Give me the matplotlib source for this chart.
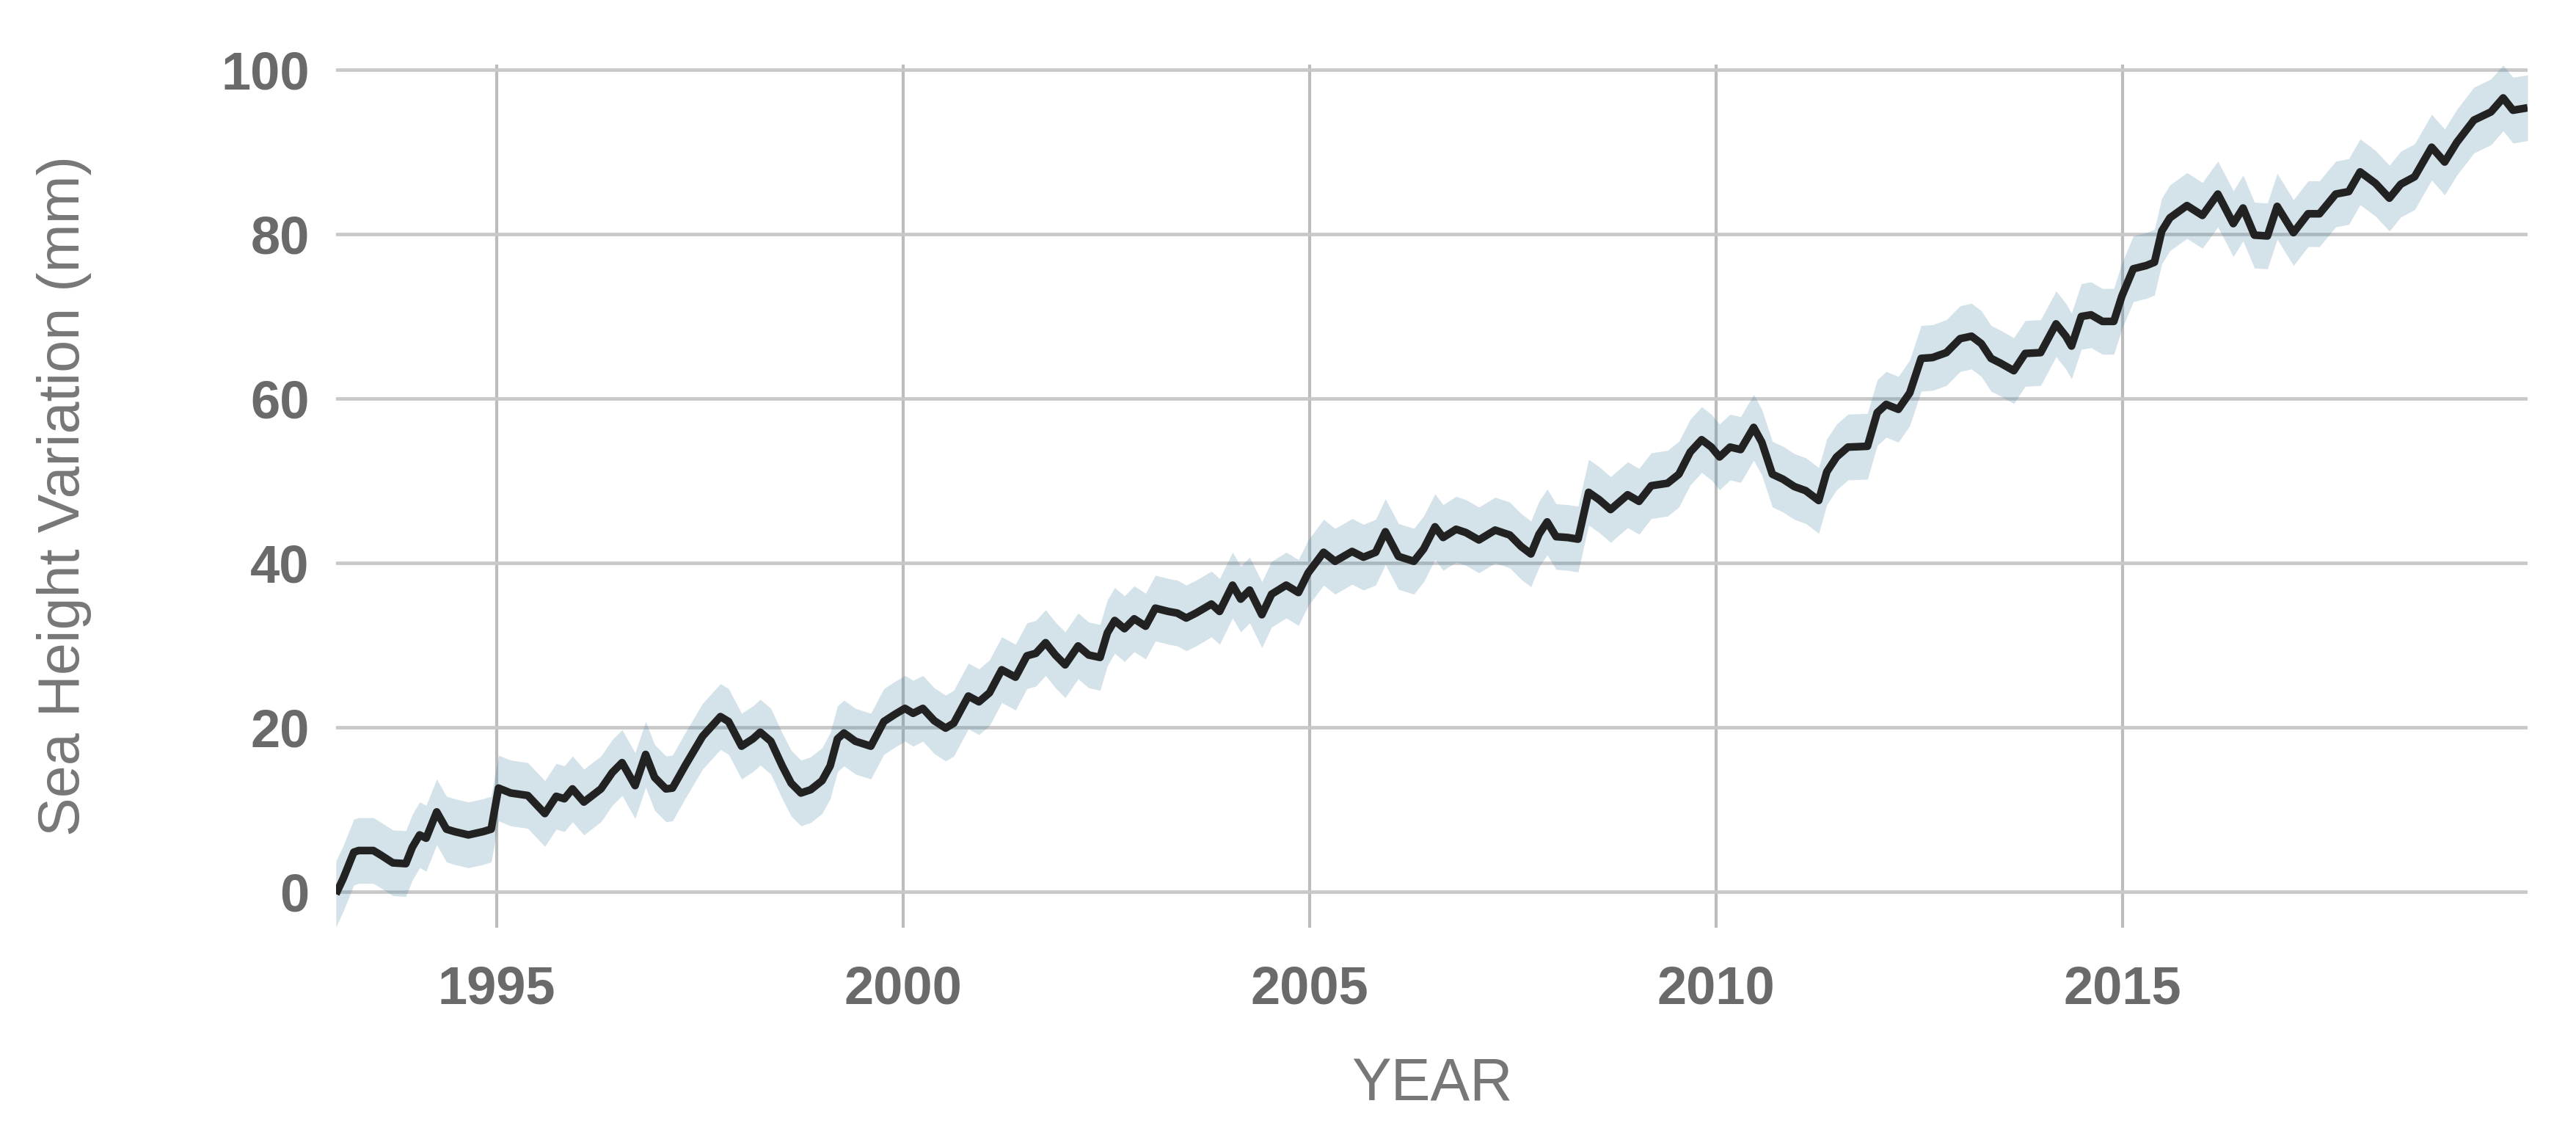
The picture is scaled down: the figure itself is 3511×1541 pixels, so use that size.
import matplotlib
matplotlib.use("Agg")
import matplotlib.pyplot as plt

# global mean sea level
years = [
    1993.02, 1993.11, 1993.24, 1993.30, 1993.48, 1993.58, 1993.72, 1993.88, 1993.96,
    1994.05, 1994.13, 1994.26, 1994.38, 1994.48, 1994.65, 1994.83, 1994.93,
    1995.02, 1995.17, 1995.38, 1995.59, 1995.73, 1995.83, 1995.93,
    1996.07, 1996.28, 1996.42, 1996.54, 1996.70, 1996.83, 1996.94,
    1997.08, 1997.16, 1997.32, 1997.53, 1997.75, 1997.85,
    1998.01, 1998.15, 1998.24, 1998.37, 1998.51, 1998.62, 1998.74, 1998.86,
    1999.00, 1999.10, 1999.19, 1999.27, 1999.41, 1999.60, 1999.76, 1999.90,
    2000.02, 2000.12, 2000.24, 2000.38, 2000.52, 2000.62, 2000.80, 2000.93,
    2001.06, 2001.21, 2001.38, 2001.52, 2001.63, 2001.75, 2001.87, 2001.99,
    2002.15, 2002.28, 2002.42, 2002.51, 2002.60, 2002.72, 2002.84, 2002.98,
    2003.10, 2003.26, 2003.37, 2003.48, 2003.60, 2003.79, 2003.89,
    2004.05, 2004.15, 2004.26, 2004.41, 2004.53, 2004.71, 2004.86, 2004.98,
    2005.17, 2005.31, 2005.52, 2005.66, 2005.81, 2005.93,
    2006.09, 2006.28, 2006.40, 2006.54, 2006.64, 2006.80, 2006.92,
    2007.08, 2007.28, 2007.46, 2007.60, 2007.72, 2007.82, 2007.92,
    2008.03, 2008.17, 2008.30, 2008.43, 2008.56, 2008.70, 2008.91,
    2009.05, 2009.20, 2009.40, 2009.54, 2009.68, 2009.82, 2009.94,
    2010.04, 2010.17, 2010.30, 2010.46, 2010.56, 2010.69, 2010.82, 2010.96,
    2011.10, 2011.26, 2011.36, 2011.48, 2011.62, 2011.86, 2011.98,
    2012.09, 2012.24, 2012.38, 2012.52, 2012.66, 2012.83,
    2013.00, 2013.14, 2013.26, 2013.38, 2013.50, 2013.66, 2013.80, 2013.99,
    2014.18, 2014.30, 2014.37, 2014.49, 2014.61, 2014.75, 2014.89, 2014.99,
    2015.13, 2015.29, 2015.39, 2015.48, 2015.58, 2015.79, 2015.98,
    2016.17, 2016.36, 2016.48, 2016.62, 2016.78, 2016.90,
    2017.10, 2017.28, 2017.42, 2017.62, 2017.78, 2017.92,
    2018.11, 2018.28, 2018.42, 2018.59, 2018.80, 2018.96,
    2019.11, 2019.32, 2019.53, 2019.68, 2019.80, 2019.98,
]
sea_mm = [
    -0.3, 1.6, 4.8, 5.0, 5.0, 4.4, 3.5, 3.4, 5.4,
    6.9, 6.5, 9.7, 7.6, 7.3, 6.9, 7.3, 7.6,
    12.6, 12.0, 11.7, 9.5, 11.6, 11.3, 12.5,
    10.9, 12.5, 14.5, 15.7, 12.9, 16.7, 13.9,
    12.5, 12.6, 15.4, 18.9, 21.3, 20.7,
    17.7, 18.6, 19.4, 18.3, 15.3, 13.2, 12.0, 12.4,
    13.5, 15.3, 18.6, 19.3, 18.3, 17.7, 20.7, 21.6,
    22.3, 21.7, 22.3, 20.8, 19.9, 20.5, 23.8, 23.1,
    24.2, 27.0, 26.1, 28.7, 29.0, 30.3, 28.8, 27.6,
    29.9, 28.8, 28.5, 31.5, 33.0, 32.0, 33.2, 32.3,
    34.5, 34.1, 33.9, 33.3, 33.9, 35.0, 34.1,
    37.3, 35.6, 36.7, 33.7, 36.2, 37.3, 36.4, 38.8,
    41.3, 40.2, 41.4, 40.7, 41.3, 43.8,
    40.8, 40.2, 41.7, 44.4, 43.1, 44.1, 43.7,
    42.8, 44.0, 43.4, 42.0, 41.1, 43.5, 45.0,
    43.2, 43.1, 42.9, 48.6, 47.7, 46.5, 48.3,
    47.5, 49.4, 49.7, 50.8, 53.5, 55.0, 54.1,
    52.9, 54.1, 53.8, 56.5, 54.7, 50.8, 50.2, 49.3,
    48.8, 47.6, 51.1, 52.9, 54.1, 54.2, 58.3,
    59.3, 58.7, 60.7, 64.9, 65.0, 65.6,
    67.3, 67.6, 66.7, 64.9, 64.3, 63.4, 65.5, 65.6,
    69.1, 67.6, 66.4, 70.0, 70.2, 69.4, 69.4, 72.5,
    75.8, 76.2, 76.6, 80.4, 82.0, 83.5, 82.3,
    84.9, 81.3, 83.2, 79.9, 79.8, 83.4,
    80.2, 82.5, 82.5, 84.9, 85.2, 87.6,
    86.2, 84.4, 86.1, 87.0, 90.6, 88.8,
    91.2, 93.9, 94.9, 96.6, 95.1, 95.4,
]
band_mm = 4.0  # half width of the shaded uncertainty band

year_ticks = [1995, 2000, 2005, 2010, 2015]
mm_ticks = [0, 20, 40, 60, 80, 100]

plt.rcParams['font.family'] = ['Liberation Sans', 'DejaVu Sans']

fig = plt.figure(figsize=(35.11, 15.41), dpi=100)
ax = fig.add_axes([0.1304, 0.1797, 0.8508, 0.7635])

lower = [v - band_mm for v in sea_mm]
upper = [v + band_mm for v in sea_mm]
ax.fill_between(years, lower, upper, color='#4682a0', alpha=0.23, linewidth=0, zorder=2)
ax.plot(years, sea_mm, color='#222222', linewidth=7.5,
        solid_joinstyle='round', solid_capstyle='butt', zorder=3)

ax.set_xlim(years[0], years[-1])
ax.set_ylim(-4.4, 100.7)
ax.set_xticks(year_ticks)
ax.set_yticks(mm_ticks)

ax.grid(True, axis='y', color='#c8c8c8', linewidth=3.4, zorder=1)
ax.grid(True, axis='x', color='#bcbcbc', linewidth=3.0, zorder=1)
ax.set_axisbelow(True)
for s in ax.spines.values():
    s.set_visible(False)

ax.tick_params(axis='both', length=0, labelsize=52, labelcolor='#6a6a6a')
ax.tick_params(axis='x', pad=36)
ax.tick_params(axis='y', pad=26)
for lab in ax.get_xticklabels() + ax.get_yticklabels():
    lab.set_fontweight('bold')

ax.set_xlabel('YEAR', fontsize=58, color='#777777')
ax.set_ylabel('Sea Height Variation (mm)', fontsize=57, color='#777777')
ax.xaxis.set_label_coords(0.5, -0.1496)
ax.yaxis.set_label_coords(-0.1115, 0.5)

fig.savefig('out.png', dpi=100)
